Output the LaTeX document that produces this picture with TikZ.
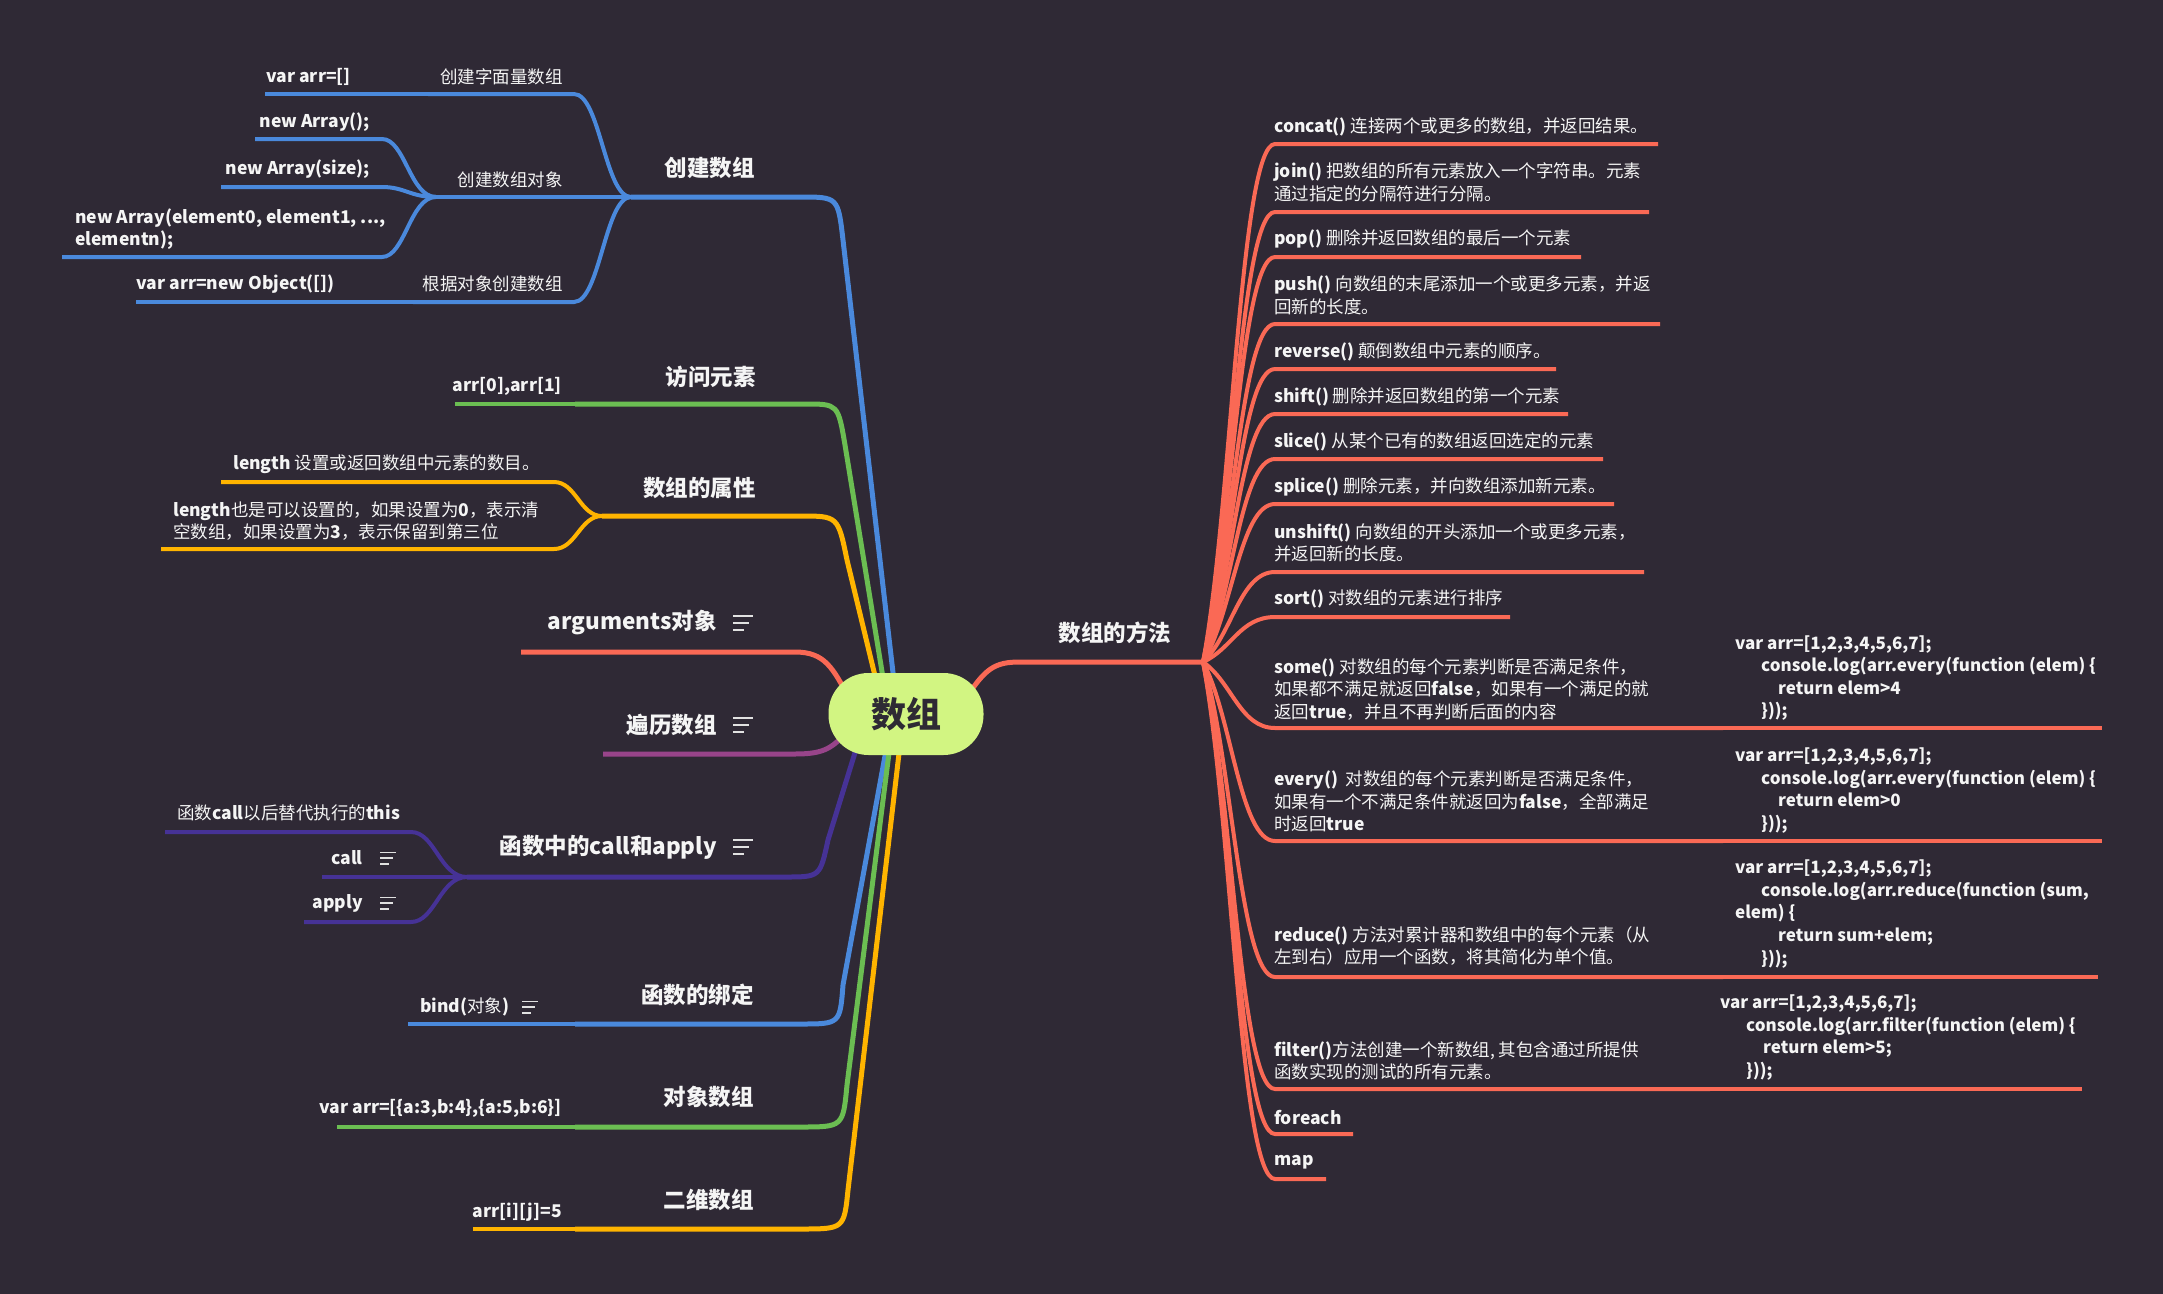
\documentclass[tikz,border=0pt]{standalone}
\usepackage{tikz}
\usepackage{fontspec}
\setmainfont{Noto Sans CJK SC}
\definecolor{bgc}{RGB}{47,41,53}
\definecolor{blueC}{RGB}{74,137,220}
\definecolor{greenC}{RGB}{107,190,82}
\definecolor{yellowC}{RGB}{255,180,0}
\definecolor{salmonC}{RGB}{250,105,85}
\definecolor{purpleC}{RGB}{152,68,138}
\definecolor{indigoC}{RGB}{70,50,150}
\definecolor{nodeC}{RGB}{210,245,130}
\definecolor{darkC}{RGB}{46,42,52}
\definecolor{txtC}{RGB}{245,245,245}
\definecolor{iconC}{RGB}{225,225,225}
\pgfdeclarelayer{bg}
\pgfsetlayers{bg,main}
\begin{document}
\begin{tikzpicture}[x=1pt,y=-1pt,line join=round,
  hd/.style={text=txtC,font=\fontsize{22.5}{27}\selectfont\bfseries,inner sep=0pt},
  sb/.style={text=txtC,font=\fontsize{17.5}{22.5}\selectfont,inner sep=0pt,align=left},
  cd/.style={text=txtC,font=\fontsize{17}{22.6}\selectfont\bfseries,inner sep=0pt,align=left},
  mainln/.style={line width=5pt},
  subln/.style={line width=4pt},
  noteicon/.pic={\draw[iconC,line width=1.8pt] (0,-7)--(20,-7) (0,0)--(16,0) (0,7)--(11,7);}
]
\useasboundingbox (0,0) rectangle (2163,1293);

% ---------- centre ----------
\node[fill=nodeC,rounded corners=40pt,minimum width=155pt,minimum height=82pt,inner sep=0pt,
      text=darkC,font=\fontsize{35}{40}\selectfont\bfseries] (root) at (906,714) {数组};

% ---------- junction coordinates ----------
\coordinate (J1) at (631,197);
\coordinate (K1) at (428,94);
\coordinate (J2) at (436,197);
\coordinate (K3) at (413,302);
\coordinate (J3) at (575,404);
\coordinate (J4) at (602,516);
\coordinate (J6) at (467,877);
\coordinate (J7) at (575,1024);
\coordinate (J8) at (575,1127);
\coordinate (J9) at (575,1229);
\coordinate (JR) at (1203,662);

% ---------- left headings ----------
\node[hd,anchor=east] (h1) at (755,168) {创建数组};
\node[hd,anchor=east] (h2) at (756,377) {访问元素};
\node[hd,anchor=east] (h3) at (756,488) {数组的属性};
\node[hd,anchor=east] (h4) at (717,623) {arguments对象};
\node[hd,anchor=east] (h5) at (717,725) {遍历数组};
\node[hd,anchor=east] (h6) at (717,847) {函数中的call和apply};
\node[hd,anchor=east] (h7) at (754,995) {函数的绑定};
\node[hd,anchor=east] (h8) at (754,1097) {对象数组};
\node[hd,anchor=east] (h9) at (754,1200) {二维数组};
\node[hd] (hR) at (1115,633) {数组的方法};

\pic at (733,623) {noteicon};
\pic at (733,725) {noteicon};
\pic at (733,847) {noteicon};

% ---------- left sub topics ----------
\node[sb,anchor=east] (a1) at (563,77) {创建字面量数组};
\node[sb,anchor=east] (a11) at (351,77) {\textbf{var arr=[]}};
\node[sb,anchor=east] (a2) at (563,180) {创建数组对象};
\node[sb,anchor=east] (a21) at (370,122) {\textbf{new Array();}};
\node[sb,anchor=east] (a22) at (370,169) {\textbf{new Array(size);}};
\node[sb,anchor=west] (a23) at (75,229) {\textbf{new Array(element0, element1, ...,}\\\textbf{elementn);}};
\node[sb,anchor=east] (a3) at (563,284) {根据对象创建数组};
\node[sb,anchor=east] (a31) at (335,284) {\textbf{var arr=new Object([])}};
\node[sb,anchor=east] (b1) at (562,386) {\textbf{arr[0],arr[1]}};
\node[sb,anchor=west] (c1) at (233,464) {\textbf{length} 设置或返回数组中元素的数目。};
\node[sb,anchor=west] (c2) at (173,521) {\textbf{length}也是可以设置的，如果设置为\textbf{0}，表示清\\空数组，如果设置为\textbf{3}，表示保留到第三位};
\node[sb,anchor=west] (f1) at (177,813) {函数\textbf{call}以后替代执行的\textbf{this}};
\node[sb,anchor=east] (f2) at (363,858) {\textbf{call}};
\node[sb,anchor=east] (f3) at (363,903) {\textbf{apply}};
\node[sb,anchor=west] (g1) at (420,1007) {\textbf{bind(}对象\textbf{)}};
\node[sb,anchor=east] (o1) at (562,1108) {\textbf{var arr=[\{a:3,b:4\},\{a:5,b:6\}]}};
\node[sb,anchor=east] (d1) at (562,1212) {\textbf{arr[i][j]=5}};
\pic[scale=0.8] at (380,858) {noteicon};
\pic[scale=0.8] at (380,903) {noteicon};
\pic[scale=0.8] at (522,1007) {noteicon};

% ---------- right sub topics ----------
\node[sb,anchor=west] (m1) at (1274,127) {\textbf{concat()} 连接两个或更多的数组，并返回结果。};
\node[sb,anchor=west] (m2) at (1274,182.5) {\textbf{join()} 把数组的所有元素放入一个字符串。元素\\通过指定的分隔符进行分隔。};
\node[sb,anchor=west] (m3) at (1274,239) {\textbf{pop()} 删除并返回数组的最后一个元素};
\node[sb,anchor=west] (m4) at (1274,295.5) {\textbf{push()} 向数组的末尾添加一个或更多元素，并返\\回新的长度。};
\node[sb,anchor=west] (m5) at (1274,352) {\textbf{reverse()} 颠倒数组中元素的顺序。};
\node[sb,anchor=west] (m6) at (1274,397) {\textbf{shift()} 删除并返回数组的第一个元素};
\node[sb,anchor=west] (m7) at (1274,442) {\textbf{slice()} 从某个已有的数组返回选定的元素};
\node[sb,anchor=west] (m8) at (1274,487) {\textbf{splice()} 删除元素，并向数组添加新元素。};
\node[sb,anchor=west] (m9) at (1274,543) {\textbf{unshift()} 向数组的开头添加一个或更多元素，\\并返回新的长度。};
\node[sb,anchor=west] (m10) at (1274,599) {\textbf{sort()} 对数组的元素进行排序};
\node[sb,anchor=west] (m11) at (1274,689.5) {\textbf{some()} 对数组的每个元素判断是否满足条件，\\如果都不满足就返回\textbf{false}，如果有一个满足的就\\返回\textbf{true}，并且不再判断后面的内容};
\node[sb,anchor=west] (m12) at (1274,801.5) {\textbf{every()}\ \ 对数组的每个元素判断是否满足条件，\\如果有一个不满足条件就返回为\textbf{false}，全部满足\\时返回\textbf{true}};
\node[sb,anchor=west] (m13) at (1274,946) {\textbf{reduce()} 方法对累计器和数组中的每个元素（从\\左到右）应用一个函数，将其简化为单个值。};
\node[sb,anchor=west] (m14) at (1274,1061) {\textbf{filter()}方法创建一个新数组, 其包含通过所提供\\函数实现的测试的所有元素。};
\node[sb,anchor=west] (m15) at (1274,1117) {\textbf{foreach}};
\node[sb,anchor=west] (m16) at (1274,1162) {\textbf{map}};

% ---------- code ----------
\node[cd,anchor=west] (s1) at (1735,678) {var arr=[1,2,3,4,5,6,7];\\\hspace*{26pt}console.log(arr.every(function (elem) \{\\\hspace*{43pt}return elem>4\\\hspace*{26pt}\}));};
\node[cd,anchor=west] (s2) at (1735,790.5) {var arr=[1,2,3,4,5,6,7];\\\hspace*{26pt}console.log(arr.every(function (elem) \{\\\hspace*{43pt}return elem>0\\\hspace*{26pt}\}));};
\node[cd,anchor=west] (s3) at (1735,914) {var arr=[1,2,3,4,5,6,7];\\\hspace*{26pt}console.log(arr.reduce(function (sum,\\elem) \{\\\hspace*{43pt}return sum+elem;\\\hspace*{26pt}\}));};
\node[cd,anchor=west] (s4) at (1720,1037.5) {var arr=[1,2,3,4,5,6,7];\\\hspace*{26pt}console.log(arr.filter(function (elem) \{\\\hspace*{43pt}return elem>5;\\\hspace*{26pt}\}));};

% ---------- connectors ----------
\begin{pgfonlayer}{bg}
\fill[bgc] (-10,-10) rectangle (2173,1303);
% 创建数组
\draw[mainln,blueC] (root.center) -- (895,690) -- (843,240) .. controls (838,197) .. (800,197) -- (J1);
\draw[subln,blueC] (J1) .. controls (605,197) and (600,94) .. (574,94) -- (K1);
\draw[subln,blueC] (K1) -- (265,94);
\draw[subln,blueC] (J1) -- (J2);
\draw[subln,blueC] (J2) .. controls (410,197) and (405,139) .. (382,139) -- (255,139);
\draw[subln,blueC] (J2) .. controls (410,197) and (405,187) .. (382,187) -- (221,187);
\draw[subln,blueC] (J2) .. controls (410,197) and (405,257) .. (382,257) -- (62,257);
\draw[subln,blueC] (J1) .. controls (605,197) and (600,302) .. (574,302) -- (K3);
\draw[subln,blueC] (K3) -- (136,302);
% 访问元素
\draw[mainln,greenC] (root.center) -- (885,690) -- (845,445) .. controls (838,404) .. (805,404) -- (J3);
\draw[subln,greenC] (J3) -- (455,404);
% 数组的属性
\draw[mainln,yellowC] (root.center) -- (876,680) -- (847,560) .. controls (838,516) .. (800,516) -- (J4);
\draw[subln,yellowC] (J4) .. controls (580,516) and (576,482) .. (554,482) -- (221,482);
\draw[subln,yellowC] (J4) .. controls (580,516) and (576,549) .. (554,549) -- (161,549);
% arguments对象
\draw[mainln,salmonC] (root.center) -- (850,700) .. controls (833,668) and (825,652) .. (795,652) -- (521,652);
% 遍历数组
\draw[mainln,purpleC] (root.center) -- (850,728) .. controls (833,748) and (825,754) .. (795,754) -- (603,754);
% call / apply
\draw[mainln,indigoC] (root.center) -- (862,730) -- (828,840) .. controls (820,877) .. (785,877) -- (J6);
\draw[subln,indigoC] (J6) .. controls (440,877) and (435,832) .. (411,832) -- (165,832);
\draw[subln,indigoC] (J6) -- (322,877);
\draw[subln,indigoC] (J6) .. controls (440,877) and (435,922) .. (411,922) -- (304,922);
% 函数的绑定
\draw[mainln,blueC] (root.center) -- (887,745) -- (843,985) .. controls (840,1024) .. (800,1024) -- (J7);
\draw[subln,blueC] (J7) -- (408,1024);
% 对象数组
\draw[mainln,greenC] (root.center) -- (890,745) -- (847,1085) .. controls (843,1127) .. (800,1127) -- (J8);
\draw[subln,greenC] (J8) -- (337,1127);
% 二维数组
\draw[mainln,yellowC] (root.center) -- (900,745) -- (848,1190) .. controls (844,1229) .. (800,1229) -- (J9);
\draw[subln,yellowC] (J9) -- (473,1229);
% 数组的方法
\draw[mainln,salmonC] (root.center) -- (965,700) .. controls (985,668) and (995,662) .. (1020,662) -- (JR);
\foreach \yy/\cy/\rr in {144/507/1658, 212/527/1649, 257/541/1581, 324/561/1660,
  369/574/1556, 414/588/1568, 459/601/1603, 504/615/1614, 572/635/1644, 617/649/1510,
  728/682/1723, 841/716/1723, 977/757/1723, 1089/790/1710, 1134/804/1353, 1179/817/1326}
  \draw[subln,salmonC] (JR) .. controls (1232,\cy) and (1240,\yy) .. (1275,\yy) -- (\rr,\yy);
\draw[subln,salmonC] (1723,728) -- (2102,728);
\draw[subln,salmonC] (1723,841) -- (2102,841);
\draw[subln,salmonC] (1723,977) -- (2098,977);
\draw[subln,salmonC] (1710,1089) -- (2082,1089);
\end{pgfonlayer}
\end{tikzpicture}
\end{document}
